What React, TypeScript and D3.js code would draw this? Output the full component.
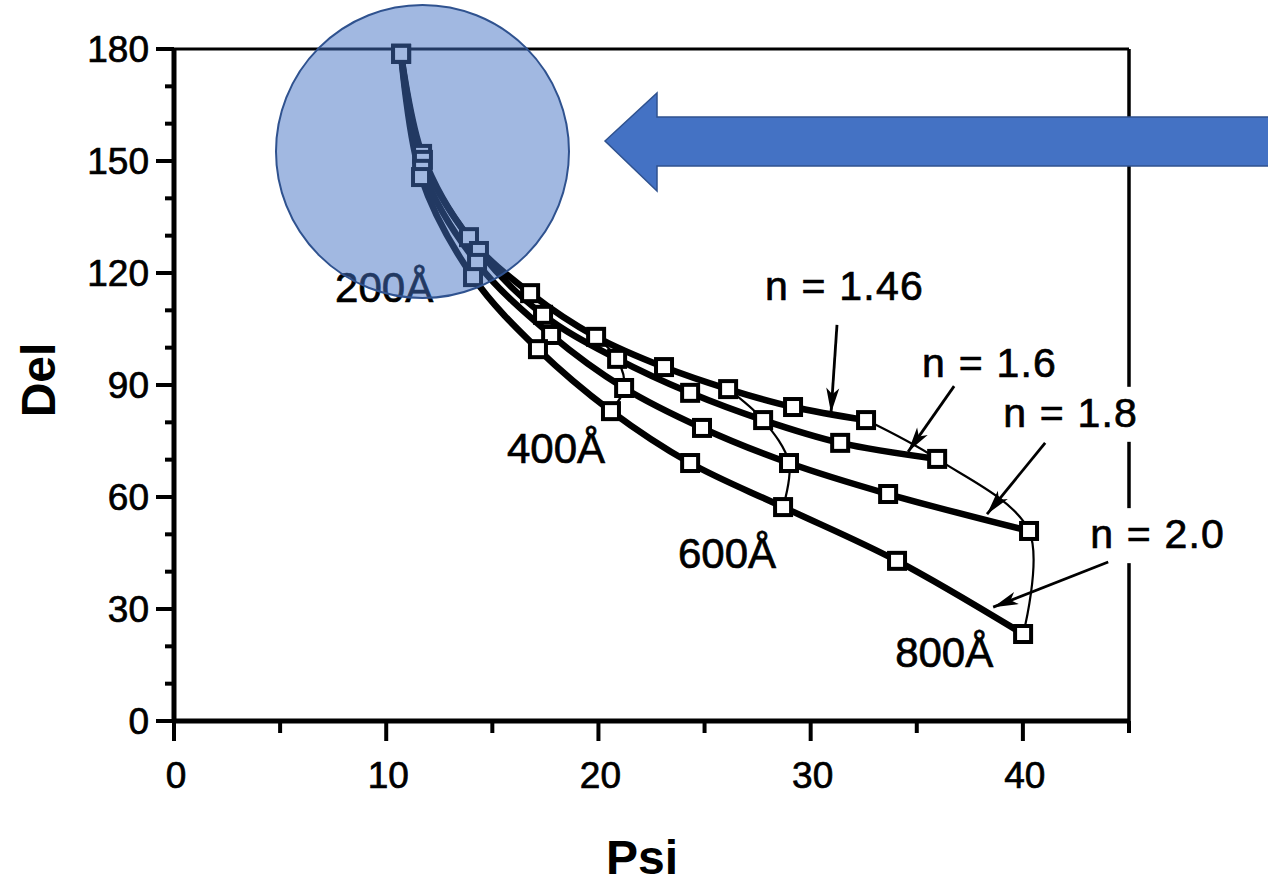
import React from 'react';
import * as d3 from 'd3';

// Ellipsometry trajectories (Psi vs Del) for films of increasing thickness, 0–800 Å in 100 Å steps
const thicknesses = [0, 100, 200, 300, 400, 500, 600, 700, 800];
const seriesNames = ['n = 1.46', 'n = 1.6', 'n = 1.8', 'n = 2.0'];

const psiN146 = [10.7, 11.69, 13.9, 16.78, 19.89, 23.09, 26.11, 29.17, 32.61];
const delN146 = [178.7, 151.9, 129.6, 114.6, 102.9, 94.8, 88.9, 84.1, 80.6];
const psiN16 = [10.7, 11.73, 14.37, 17.39, 20.88, 24.32, 27.76, 31.39, 35.96];
const delN16 = [178.7, 150.3, 125.9, 108.8, 97.0, 87.9, 80.6, 74.5, 70.2];
const psiN18 = [10.7, 11.69, 14.28, 17.77, 21.21, 24.88, 28.98, 33.65, 40.29];
const delN18 = [178.7, 147.9, 122.7, 103.4, 89.2, 78.5, 69.1, 60.8, 50.9];
const psiN20 = [10.7, 11.64, 14.09, 17.15, 20.59, 24.32, 28.7, 34.07, 40.01];
const delN20 = [178.7, 145.7, 118.9, 99.6, 83.0, 69.1, 57.3, 42.9, 23.3];

// thickness contours that get a thin connecting line, and their labels
const contourThicknesses = [200, 400, 600, 800];
const contourLabels = ['200Å', '400Å', '600Å', '800Å'];
const contourLabelPsi = [7.59, 15.69, 23.75, 33.98];
const contourLabelDel = [112.2, 69.1, 41.0, 14.5];

// index labels and their leader arrows (data units)
const indexLabelPsi = [27.85, 35.25, 39.07, 43.17];
const indexLabelDel = [112.8, 92.1, 78.8, 46.3];
const indexLabelBoxed = [false, false, true, true];
const arrowFromPsi = [31.24, 36.76, 41.05, 44.02];
const arrowFromDel = [106.1, 89.7, 74.5, 42.6];
const arrowToPsi = [30.96, 34.59, 38.31, 38.6];
const arrowToDel = [82.5, 72.1, 55.4, 30.5];

const xMajorTicks = [0, 10, 20, 30, 40];
const xMinorTicks = [5, 15, 25, 35, 45];
const yMajorTicks = [0, 30, 60, 90, 120, 150, 180];
const yMinorTicks = [10, 20, 40, 50, 70, 80, 100, 110, 130, 140, 160, 170];

const W = 1268;
const H = 885;
const FONT = '"Liberation Sans", Arial, Helvetica, sans-serif';

const x = d3.scaleLinear().domain([0, 45]).range([174, 1129]);
const y = d3.scaleLinear().domain([0, 180]).range([721, 49]);

const psiSeries = [psiN146, psiN16, psiN18, psiN20];
const delSeries = [delN146, delN16, delN18, delN20];

type Pt = [number, number];

const curveLine = d3
  .line<Pt>()
  .x((d) => x(d[0]))
  .y((d) => y(d[1]))
  .curve(d3.curveCatmullRom.alpha(0.5));

function arrowHead(x1: number, y1: number, x2: number, y2: number, len = 25, half = 6.5) {
  const a = Math.atan2(y2 - y1, x2 - x1);
  const bx = x2 - len * Math.cos(a);
  const by = y2 - len * Math.sin(a);
  const px = -Math.sin(a) * half;
  const py = Math.cos(a) * half;
  return `M${x2},${y2} L${bx + px},${by + py} L${bx + len * 0.25 * Math.cos(a)},${by + len * 0.25 * Math.sin(a)} L${bx - px},${by - py} Z`;
}

// a faint outline thickens the glyphs like the printed lettering
const inkText = { stroke: '#000', strokeWidth: 0.7 };

export default function App() {
  const series: Pt[][] = psiSeries.map((ps, i) => ps.map((p, j) => [p, delSeries[i][j]] as Pt));

  const contours: Pt[][] = contourThicknesses.map((t) => {
    const j = thicknesses.indexOf(t);
    return series.map((s) => s[j]);
  });

  const x0 = x(0);
  const x45 = x(45);
  const y0 = y(0);
  const y180 = y(180);

  // block arrow pointing at the circled region
  const tipX = 605;
  const tipY = 141;
  const headX = 657;
  const arrowPts = [
    [tipX, tipY],
    [headX, 93],
    [headX, 117],
    [W + 10, 117],
    [W + 10, 166],
    [headX, 166],
    [headX, 191],
  ]
    .map((p) => p.join(','))
    .join(' ');

  return (
    <svg
      width={W}
      height={H}
      style={{ position: 'absolute', left: 0, top: 0, background: '#fff' }}
      fontFamily={FONT}
    >
      <rect x={0} y={0} width={W} height={H} fill="#fff" />

      {/* frame: thin top and right, heavy left and bottom */}
      <line x1={x0} y1={y180} x2={x45} y2={y180} stroke="#000" strokeWidth={3} />
      <line x1={x45} y1={y180} x2={x45} y2={y0} stroke="#000" strokeWidth={3.5} />
      <line x1={x0} y1={y180 - 1} x2={x0} y2={y0 + 2} stroke="#000" strokeWidth={5} />
      <line x1={x0 - 2} y1={y0} x2={x45 + 1} y2={y0} stroke="#000" strokeWidth={5} />

      {/* y ticks */}
      {yMajorTicks.map((v) => (
        <g key={'ym' + v}>
          <line x1={x0 - 18} x2={x0} y1={y(v)} y2={y(v)} stroke="#000" strokeWidth={4} />
          <text x={x0 - 25} y={y(v) + 13} fontSize={37} textAnchor="end" fill="#000" {...inkText}>
            {v}
          </text>
        </g>
      ))}
      {yMinorTicks.map((v) => (
        <line key={'yn' + v} x1={x0 - 9} x2={x0} y1={y(v)} y2={y(v)} stroke="#000" strokeWidth={4} />
      ))}

      {/* x ticks */}
      {xMajorTicks.map((v) => (
        <g key={'xm' + v}>
          <line x1={x(v)} x2={x(v)} y1={y0} y2={y0 + 20} stroke="#000" strokeWidth={4} />
          <text x={x(v) + 2} y={y0 + 67} fontSize={37} textAnchor="middle" fill="#000" {...inkText}>
            {v}
          </text>
        </g>
      ))}
      {xMinorTicks.map((v) => (
        <line key={'xn' + v} x1={x(v)} x2={x(v)} y1={y0} y2={y0 + 12} stroke="#000" strokeWidth={4} />
      ))}

      {/* axis titles */}
      <text x={642} y={874} fontSize={48} fontWeight="bold" textAnchor="middle" fill="#000">
        Psi
      </text>
      <text
        transform="translate(55,380) rotate(-90)"
        fontSize={48}
        fontWeight="bold"
        textAnchor="middle"
        fill="#000"
      >
        Del
      </text>

      {/* thin constant-thickness contours */}
      {contours.map((c, i) => (
        <path key={'c' + i} d={curveLine(c) || ''} fill="none" stroke="#000" strokeWidth={2.2} />
      ))}

      {/* heavy index curves */}
      {series.map((s, i) => (
        <path
          key={'s' + i}
          d={curveLine(s) || ''}
          fill="none"
          stroke="#000"
          strokeWidth={6.5}
          strokeLinejoin="round"
          strokeLinecap="round"
        />
      ))}

      {/* square markers */}
      {series.map((s, i) =>
        s.map((d, j) => (
          <rect
            key={'m' + i + '-' + j}
            x={x(d[0]) - 8}
            y={y(d[1]) - 8}
            width={16}
            height={16}
            fill="#fff"
            stroke="#000"
            strokeWidth={4}
          />
        ))
      )}

      {/* thickness labels */}
      {contourLabels.map((t, i) => (
        <text
          key={'cl' + i}
          x={x(contourLabelPsi[i])}
          y={y(contourLabelDel[i])}
          fontSize={42}
          fill="#000"
          {...inkText}
        >
          {t}
        </text>
      ))}

      {/* index labels */}
      {seriesNames.map((name, i) => (
        <g key={'il' + i}>
          {indexLabelBoxed[i] && (
            <rect
              x={x(indexLabelPsi[i]) - 4}
              y={y(indexLabelDel[i]) - 40}
              width={name.length * 17 + 14}
              height={55}
              fill="#fff"
            />
          )}
          <text
            x={x(indexLabelPsi[i])}
            y={y(indexLabelDel[i])}
            fontSize={41}
            letterSpacing={1.2}
            fill="#000"
            {...inkText}
          >
            {name}
          </text>
        </g>
      ))}

      {/* leader arrows */}
      {seriesNames.map((_, i) => {
        const x1 = x(arrowFromPsi[i]);
        const y1 = y(arrowFromDel[i]);
        const x2 = x(arrowToPsi[i]);
        const y2 = y(arrowToDel[i]);
        return (
          <g key={'a' + i}>
            <line x1={x1} y1={y1} x2={x2} y2={y2} stroke="#000" strokeWidth={2.8} />
            <path d={arrowHead(x1, y1, x2, y2)} fill="#000" />
          </g>
        );
      })}

      {/* highlight circle */}
      <circle cx={422.5} cy={151.5} r={146.5} fill="#4472C4" fillOpacity={0.5} stroke="#2F528F" strokeWidth={2} />

      {/* block arrow */}
      <polygon points={arrowPts} fill="#4472C4" stroke="#2F528F" strokeWidth={1.5} />
    </svg>
  );
}
